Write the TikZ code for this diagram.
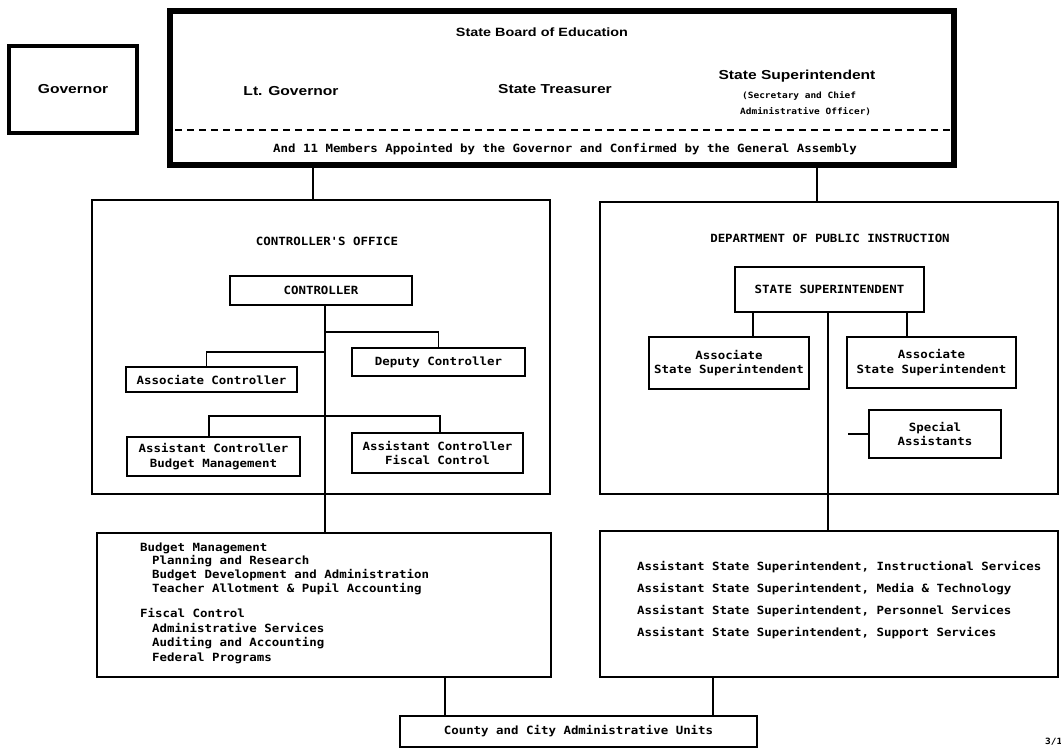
\documentclass[tikz,border=0pt]{standalone}
\usepackage{fontspec}
\newfontfamily\hvfam[FakeStretch=1.2]{Liberation Sans}
\newfontfamily\twfam[FakeStretch=1.1]{DejaVu Sans Mono}
\newcommand\hvb{\hvfam\bfseries\fontsize{13}{15}\selectfont}
\newcommand\hvt{\hvfam\bfseries\fontsize{12}{15}\selectfont}
\newcommand\twf{\twfam\bfseries\fontsize{11.3}{14.5}\selectfont}
\newcommand\tws{\twfam\bfseries\fontsize{8.6}{11}\selectfont}
\begin{document}
\begin{tikzpicture}[x=1pt,y=-1pt,
  box/.style={draw, line width=1.4pt, inner sep=0pt, align=center, font=\twf},
  conn/.style={draw, line width=1.5pt},
  txt/.style={inner sep=0pt, font=\twf},
  btxt/.style={inner sep=0pt, font=\hvb}]
\useasboundingbox (0,0) rectangle (1061,749);

% Governor and State Board
\node[draw, line width=4pt, minimum width=128pt, minimum height=87pt, font=\hvb] (gov) at (73,89.5) {Governor};
\node[draw, line width=6pt, minimum width=784pt, minimum height=154pt] (board) at (562,88) {};
\node[btxt, font=\hvt] (title) at (542,32) {State Board of Education};
\node[btxt] (ltgov) at (291,91) {Lt. Governor};
\node[btxt] (treas) at (555,89) {State Treasurer};
\node[btxt] (supt) at (797,76) {State Superintendent};
\node[txt, font=\tws, anchor=west] (sec1) at (742,96) {(Secretary and Chief};
\node[txt, font=\tws, anchor=west] (sec2) at (740,112) {Administrative Officer)};
\coordinate (dl) at (175,130);
\coordinate (dr) at (950,130);
\draw[dash pattern=on 7pt off 5pt, line width=1.2pt] (dl) -- (dr);
\node[txt] (members) at (565,149) {And 11 Members Appointed by the Governor and Confirmed by the General Assembly};

% Controller's office
\node[box, minimum width=458pt, minimum height=294pt] (co) at (321,347) {};
\node[txt] (cotitle) at (327,241) {CONTROLLER'S OFFICE};
\node[box, minimum width=182pt, minimum height=29pt] (ctrl) at (321,290.5) {CONTROLLER};
\node[box, minimum width=173pt, minimum height=28pt] (dep) at (438.5,362) {Deputy Controller};
\node[box, minimum width=171pt, minimum height=25pt] (assoc) at (211.5,379.5) {Associate Controller};
\node[box, minimum width=173pt, minimum height=39pt] (acbm) at (213.5,456.5) {Assistant Controller\\Budget Management};
\node[box, minimum width=171pt, minimum height=40pt] (acfc) at (437.5,453) {Assistant Controller\\Fiscal Control};

% Department of Public Instruction
\node[box, minimum width=458pt, minimum height=292pt] (dpi) at (829,348) {};
\node[txt] (dpititle) at (830,238) {DEPARTMENT OF PUBLIC INSTRUCTION};
\node[box, minimum width=189pt, minimum height=45pt] (ss) at (829.5,289.5) {STATE SUPERINTENDENT};
\node[box, minimum width=160pt, minimum height=52pt] (asl) at (729,363) {Associate\\State Superintendent};
\node[box, minimum width=169pt, minimum height=51pt] (asr) at (931.5,362.5) {Associate\\State Superintendent};
\node[box, minimum width=132pt, minimum height=48pt] (spa) at (935,434) {Special\\Assistants};

% Lower boxes
\node[box, minimum width=454pt, minimum height=144pt] (bl) at (324,605) {};
\node[box, minimum width=458pt, minimum height=146pt] (br) at (829,604) {};
\node[box, minimum width=357pt, minimum height=31pt] (county) at (578.5,731.5) {County and City Administrative Units};

\node[txt, anchor=west] (b1) at (140,548) {Budget Management};
\node[txt, anchor=west] (b2) at (152,561) {Planning and Research};
\node[txt, anchor=west] (b3) at (152,575) {Budget Development and Administration};
\node[txt, anchor=west] (b4) at (152,589) {Teacher Allotment \& Pupil Accounting};
\node[txt, anchor=west] (f1) at (140,613) {Fiscal Control};
\node[txt, anchor=west] (f2) at (152,628) {Administrative Services};
\node[txt, anchor=west] (f3) at (152,643) {Auditing and Accounting};
\node[txt, anchor=west] (f4) at (152,658) {Federal Programs};

\node[txt, anchor=west] (r1) at (637,567) {Assistant State Superintendent, Instructional Services};
\node[txt, anchor=west] (r2) at (637,589) {Assistant State Superintendent, Media \& Technology};
\node[txt, anchor=west] (r3) at (637,611) {Assistant State Superintendent, Personnel Services};
\node[txt, anchor=west] (r4) at (637,633) {Assistant State Superintendent, Support Services};

\node[txt, font=\tws, anchor=west] (pg) at (1045,742) {3/1};

% Connectors
\coordinate (xl) at (313,0);
\coordinate (xr) at (817,0);
\draw[conn] (board.south -| xl) -- (co.north -| xl);
\draw[conn] (board.south -| xr) -- (dpi.north -| xr);

\coordinate (tc) at (325,0);
\coordinate (ya) at (0,332);
\coordinate (yb) at (0,352);
\coordinate (yc) at (0,416);
\draw[conn] (ctrl.south -| tc) -- (bl.north -| tc);
\draw[conn] (tc |- ya) -| (dep.north);
\draw[conn] (tc |- yb) -| ([xshift=-5pt]assoc.north);
\draw[conn] (acbm.north -| {(209,0)}) |- (tc |- yc) -| (acfc.north -| {(440,0)});

\coordinate (td) at (828,0);
\draw[conn] (ss.south -| td) -- (br.north -| td);
\draw[conn] (ss.south -| {(753,0)}) -- (asl.north -| {(753,0)});
\draw[conn] (ss.south -| {(907,0)}) -- (asr.north -| {(907,0)});
\coordinate (sp) at (848,434);
\draw[conn] (sp) -- (spa.west);

\draw[conn] (bl.south -| {(445,0)}) -- (county.north -| {(445,0)});
\draw[conn] (br.south -| {(713,0)}) -- (county.north -| {(713,0)});
\end{tikzpicture}
\end{document}
